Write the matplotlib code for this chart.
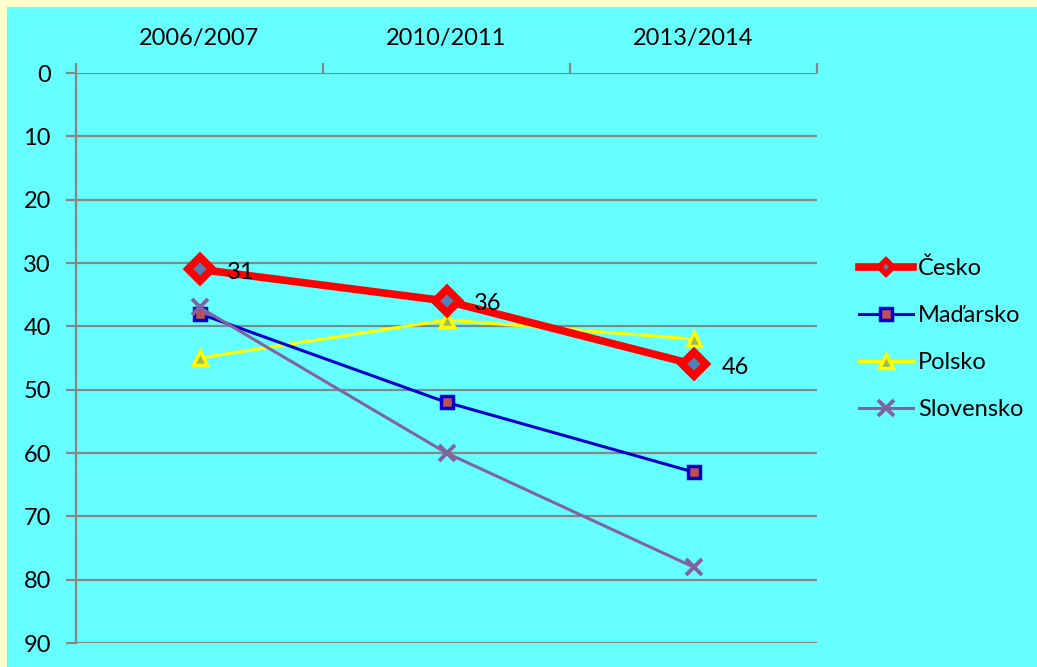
import numpy as np
import matplotlib.pyplot as plt
from matplotlib.patches import Rectangle

# Data
years = ["2006/2007", "2010/2011", "2013/2014"]
cesko = [31, 36, 46]
madarsko = [38, 52, 63]
polsko = [45, 39, 42]
slovensko = [37, 60, 78]
y_ticks = list(range(0, 100, 10))

plt.rcParams['font.family'] = ['Lato', 'DejaVu Sans']
FS = 17

fig = plt.figure(figsize=(10.37, 6.67), dpi=100)
fig.patch.set_facecolor('#FFFFCC')
# cyan chart area inside the pale yellow frame
fig.patches.append(Rectangle((7 / 1037, 0), 1 - 7 / 1037, 1 - 7 / 667,
                             transform=fig.transFigure, facecolor='#66FFFF',
                             edgecolor='none', zorder=-10))

ax = fig.add_axes([76 / 1037, 1 - 643 / 667, (817 - 76) / 1037, (643 - 73) / 667])
ax.set_facecolor('none')

x = np.arange(len(years))
grid_col = '#868686'

ax.plot(x, cesko, color='#FF0000', lw=5.5, marker='D', ms=12.5,
        mfc='#4F81BD', mec='#FF0000', mew=5.5, label='Česko', zorder=5)
ax.plot(x, madarsko, color='#0000CC', lw=2.2, marker='s', ms=9,
        mfc='#C0504D', mec='#0000CC', mew=2.5, label='Maďarsko', zorder=4)
ax.plot(x, polsko, color='#FFFF00', lw=2.2, marker='^', ms=10,
        mfc='#9BBB59', mec='#FFFF00', mew=2.5, label='Polsko', zorder=3)
ax.plot(x, slovensko, color='#8064A2', lw=2.2, marker='x', ms=11,
        mec='#8064A2', mew=2.8, label='Slovensko', zorder=4)

for xi, v in zip(x, cesko):
    ax.annotate(str(v), (xi, v), xytext=(20, -2), textcoords='offset points',
                ha='left', va='center', fontsize=FS, color='black', zorder=6)

ax.set_xlim(-0.5, 2.5)
ax.set_ylim(90, 0)
ax.set_yticks(y_ticks)
ax.yaxis.grid(True, color=grid_col, lw=1.6)
ax.set_axisbelow(True)

ax.xaxis.tick_top()
ax.set_xticks(x)
ax.set_xticklabels(years, fontsize=FS)
ax.set_xticks([-0.5, 0.5, 1.5, 2.5], minor=True)
ax.tick_params(axis='x', which='major', length=0, pad=17)
ax.tick_params(axis='x', which='minor', length=7, width=1.6, color=grid_col, top=True, bottom=False)
ax.tick_params(axis='y', length=7, width=1.6, color=grid_col, labelsize=FS, pad=11)

for side in ['right', 'bottom', 'top']:
    ax.spines[side].set_visible(False)
ax.spines['left'].set_color(grid_col)
ax.spines['left'].set_linewidth(1.6)

leg = ax.legend(loc='center left', bbox_to_anchor=(1.028, 0.533), frameon=False,
                fontsize=FS, handlelength=2.3, handletextpad=0.2, labelspacing=1.1)
leg.legend_handles[0].set_markersize(7)
leg.legend_handles[0].set_markeredgewidth(4)

fig.savefig('out.png', dpi=100, facecolor=fig.get_facecolor())
